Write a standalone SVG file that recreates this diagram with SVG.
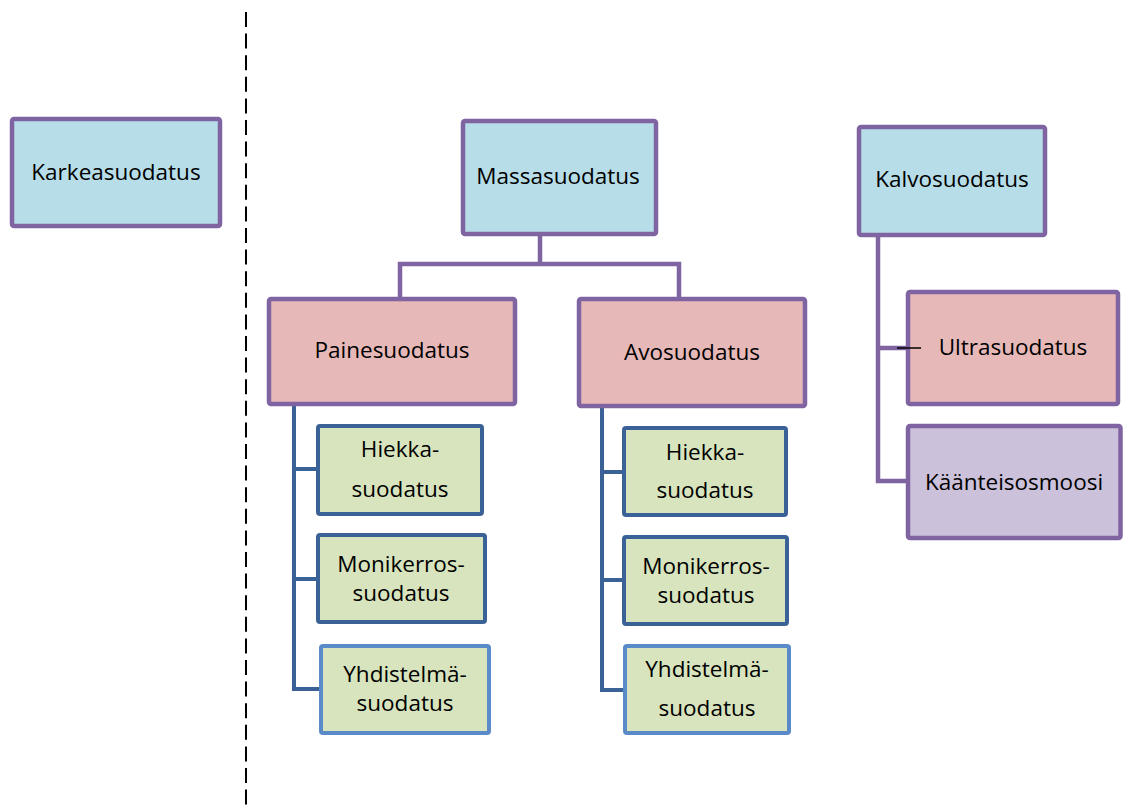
<svg xmlns="http://www.w3.org/2000/svg" width="1123" height="807" viewBox="0 0 1123 807">
<style>
.bx{stroke:#8064a2;stroke-width:4.5}
.blue{fill:#b7dde8}
.pink{fill:#e6b9b8}
.lav{fill:#ccc1da}
.gr{fill:#d7e4bd;stroke:#3b6296;stroke-width:4}
.gr2{fill:#d7e4bd;stroke:#5a8bc8;stroke-width:4}
text{font-family:"Open Sans","Liberation Sans",sans-serif;font-size:22.5px;fill:#000;text-anchor:middle}
.cp{fill:none;stroke:#8064a2;stroke-width:4.5}
.cb{fill:none;stroke:#3b6296;stroke-width:4}
</style>
<rect width="1123" height="807" fill="#fff"/>
<line x1="246" y1="12" x2="246" y2="807" stroke="#000" stroke-width="2" stroke-dasharray="15 6.6"/>
<g id="connectors">
<path class="cp" d="M540 236V264M400 297V264H679V297"/>
<path class="cp" d="M878 237V481H906M878 348H906"/>
<path class="cb" d="M294 406V689H319M294 469H316M294 579H316"/>
<path class="cb" d="M602 408V690H623M602 472H622M602 580H622"/>
</g>
<g id="karkea"><rect class="bx blue" x="12" y="119" width="208" height="107" rx="2"/><text x="116" y="180">Karkeasuodatus</text></g>
<g id="massa"><rect class="bx blue" x="463" y="121" width="193" height="113" rx="2"/><text x="558" y="184">Massasuodatus</text></g>
<g id="kalvo"><rect class="bx blue" x="859" y="127" width="186" height="108" rx="2"/><text x="952" y="187">Kalvosuodatus</text></g>
<g id="paine"><rect class="bx pink" x="269" y="299" width="246" height="105" rx="2"/><text x="392" y="358">Painesuodatus</text></g>
<g id="avo"><rect class="bx pink" x="579" y="299" width="226" height="107" rx="2"/><text x="692" y="360">Avosuodatus</text></g>
<g id="ultra"><rect class="bx pink" x="908" y="292" width="210" height="112" rx="2"/><text x="1013" y="355">Ultrasuodatus</text></g>
<g id="kaanteis"><rect class="bx lav" x="908" y="426" width="212.5" height="112" rx="2"/><text x="1014" y="490">Käänteisosmoosi</text></g>
<g id="p-hiekka"><rect class="gr" x="318" y="426" width="164" height="88" rx="2"/><text x="400" y="457">Hiekka-</text><text x="400" y="497">suodatus</text></g>
<g id="p-moni"><rect class="gr" x="318" y="535" width="167" height="87" rx="2"/><text x="401" y="572">Monikerros-</text><text x="401" y="601">suodatus</text></g>
<g id="p-yhd"><rect class="gr2" x="321" y="646" width="168" height="87" rx="2"/><text x="405" y="682">Yhdistelmä-</text><text x="405" y="711">suodatus</text></g>
<g id="a-hiekka"><rect class="gr" x="624" y="428" width="162" height="87" rx="2"/><text x="705" y="460">Hiekka-</text><text x="705" y="498">suodatus</text></g>
<g id="a-moni"><rect class="gr" x="624" y="537" width="163" height="87" rx="2"/><text x="706" y="574">Monikerros-</text><text x="706" y="603">suodatus</text></g>
<g id="a-yhd"><rect class="gr2" x="625" y="646" width="164" height="87" rx="2"/><text x="707" y="677">Yhdistelmä-</text><text x="707" y="716">suodatus</text></g>
<g id="tick"><path d="M897 348H921" stroke="#000" stroke-width="1.5" fill="none"/></g>
</svg>
